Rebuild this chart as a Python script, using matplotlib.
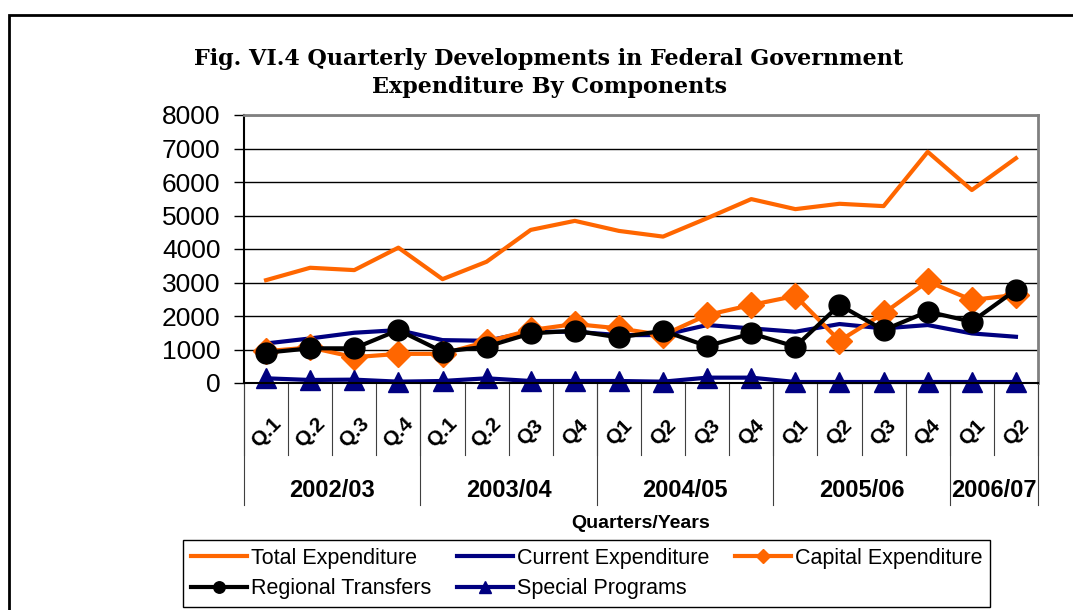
import matplotlib.pyplot as plt
from matplotlib.patches import Rectangle
from matplotlib.transforms import blended_transform_factory

# Quarterly federal government expenditure by components
quarters = ['Q.1', 'Q.2', 'Q.3', 'Q.4', 'Q.1', 'Q.2', 'Q3', 'Q4', 'Q1', 'Q2', 'Q3', 'Q4',
            'Q1', 'Q2', 'Q3', 'Q4', 'Q1', 'Q2']
years = ['2002/03', '2003/04', '2004/05', '2005/06', '2006/07']
year_sizes = [4, 4, 4, 4, 2]

total = [3070, 3440, 3370, 4040, 3100, 3620, 4570, 4840, 4540, 4370, 4920, 5490,
         5190, 5350, 5280, 6900, 5760, 6710]
current = [1180, 1330, 1500, 1580, 1280, 1260, 1530, 1530, 1430, 1430, 1730, 1630,
           1530, 1760, 1630, 1730, 1480, 1380]
capital = [950, 1060, 770, 870, 870, 1230, 1580, 1760, 1630, 1430, 2030, 2330,
           2600, 1260, 2080, 3030, 2480, 2630]
regional = [905, 1035, 1035, 1580, 935, 1085, 1480, 1560, 1360, 1560, 1100, 1480,
            1085, 2330, 1580, 2130, 1830, 2780]
special = [140, 90, 100, 40, 60, 140, 60, 60, 60, 40, 160, 160,
           30, 30, 30, 30, 30, 30]

ORANGE = '#FF6600'
NAVY = '#000080'

plt.rcParams['font.family'] = ['Liberation Sans', 'DejaVu Sans']

fig = plt.figure(figsize=(10.73, 6.10), dpi=100)
ax = fig.add_axes([244 / 1073, 1 - 383 / 610, (1038 - 244) / 1073, (383 - 115) / 610])

x = list(range(len(quarters)))
l_tot, = ax.plot(x, total, color=ORANGE, lw=3, label='Total Expenditure', clip_on=False)
l_cur, = ax.plot(x, current, color=NAVY, lw=3, label='Current Expenditure', clip_on=False)
l_cap, = ax.plot(x, capital, color=ORANGE, lw=3, marker='D', ms=13.5,
                 label='Capital Expenditure', clip_on=False)
l_reg, = ax.plot(x, regional, color='black', lw=3, marker='o', ms=15,
                 label='Regional Transfers', clip_on=False)
l_spe, = ax.plot(x, special, color=NAVY, lw=3, marker='^', ms=15,
                 label='Special Programs', clip_on=False)

ax.set_xlim(-0.5, len(quarters) - 0.5)
ax.set_ylim(0, 8000)
ax.set_yticks(range(0, 8001, 1000))
ax.tick_params(axis='y', labelsize=19, length=7, width=1, pad=10)
ax.set_xticks([])
ax.yaxis.grid(True, color='black', lw=1)
ax.set_axisbelow(True)
for s in ['top', 'right']:
    ax.spines[s].set_color('#808080')
    ax.spines[s].set_linewidth(2)
ax.spines['left'].set_linewidth(1.5)
ax.spines['bottom'].set_linewidth(1.5)

# category axis: quarter labels, separators and year groups
tr = blended_transform_factory(ax.transData, ax.transAxes)
for i, q in enumerate(quarters):
    ax.text(i, -0.185, q, transform=tr, rotation=45, ha='center', va='center',
            fontsize=15, fontweight='bold')
bounds = [-0.5]
for n in year_sizes:
    bounds.append(bounds[-1] + n)
for b in [i - 0.5 for i in range(len(quarters) + 1)]:
    ax.plot([b, b], [0, -0.27], transform=tr, color='#404040', lw=0.8, clip_on=False)
for b in bounds:
    ax.plot([b, b], [0, -0.455], transform=tr, color='#404040', lw=0.8, clip_on=False)
for k, yr in enumerate(years):
    ax.text((bounds[k] + bounds[k + 1]) / 2, -0.40, yr, transform=tr, ha='center',
            va='center', fontsize=17, fontweight='bold')

ax.text(641 / 1073, 1 - 523 / 610, 'Quarters/Years', transform=fig.transFigure,
        ha='center', va='center', fontsize=14, fontweight='bold', zorder=1)

fig.text(549 / 1073, 1 - 73 / 610,
         'Fig. VI.4 Quarterly Developments in Federal Government\nExpenditure By Components',
         ha='center', va='center', fontsize=16, fontweight='bold', family='DejaVu Serif',
         linespacing=1.3)

leg = ax.legend([l_tot, l_reg, l_cur, l_spe, l_cap],
                [h.get_label() for h in [l_tot, l_reg, l_cur, l_spe, l_cap]],
                ncol=3, loc='lower left', bbox_to_anchor=(183 / 1073, 1 - 607 / 610,
                                                          (990 - 183) / 1073, (607 - 538) / 610),
                bbox_transform=fig.transFigure, mode='expand', fancybox=False,
                edgecolor='black', framealpha=1, borderaxespad=0, borderpad=0.35,
                handlelength=2.6, handletextpad=0.2, columnspacing=0.6, labelspacing=0.45,
                markerscale=0.55, prop={'size': 15.5})
leg.set_zorder(5)
leg.get_frame().set_linewidth(1)

fig.patches.append(Rectangle((9 / 1073, -0.01), 1.02, 1 - 15 / 610 + 0.01, fill=False,
                             lw=2, edgecolor='black', transform=fig.transFigure))

fig.savefig('out.png', dpi=100)
